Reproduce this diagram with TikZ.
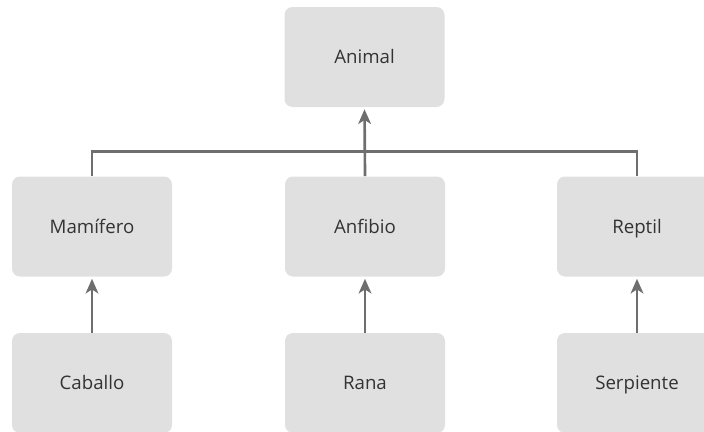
\documentclass[tikz,border=0pt]{standalone}
\usepackage{fontspec}
\setmainfont{Open Sans}
\usetikzlibrary{arrows.meta}
\definecolor{boxgray}{HTML}{E0E0E0}
\definecolor{linegray}{HTML}{6E6E6E}
\definecolor{textgray}{HTML}{333333}
\tikzset{
  box/.style={fill=boxgray, rounded corners=6pt, minimum width=120pt,
    minimum height=75pt, text=textgray, text height=12pt, text depth=2pt,
    font=\fontsize{14}{16}\selectfont},
  link/.style={draw=linegray, line width=2pt},
  isa/.style={link, -{Stealth[length=11pt, width=9.5pt, inset=3pt]}, shorten >=1.5pt},
}

\begin{document}
\begin{tikzpicture}[x=0.75pt, y=-0.75pt]
  \clip (0,0) rectangle (704,432);
  \useasboundingbox (0,0) rectangle (704,432);
  % top of the hierarchy
  \node[box] (animal) at (364.5,57) {Animal};
  % classes
  \node[box] (mamifero) at (92,226.5) {Mamífero};
  \node[box] (anfibio)  at (365,226.5) {Anfibio};
  \node[box] (reptil)   at (637,226.5) {Reptil};
  % species
  \node[box] (caballo)   at (92,383) {Caballo};
  \node[box] (rana)      at (365,383) {Rana};
  \node[box] (serpiente) at (637,383) {Serpiente};
  % shared bar and links
  \draw[link] (mamifero.north) -- ++(0,-24.5) -| (reptil.north);
  \draw[isa] (anfibio.north) -- (animal.south);
  \draw[isa] (caballo.north) -- (mamifero.south);
  \draw[isa] (rana.north) -- (anfibio.south);
  \draw[isa] (serpiente.north) -- (reptil.south);
\end{tikzpicture}
\end{document}
